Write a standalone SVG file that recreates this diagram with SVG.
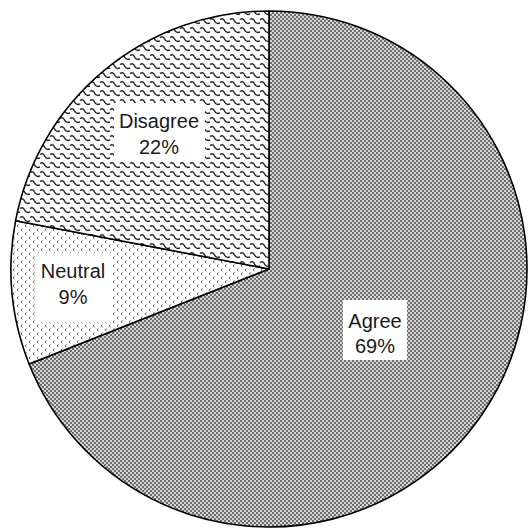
<svg xmlns="http://www.w3.org/2000/svg" width="528" height="529" viewBox="0 0 528 529">
<defs>
<style>
.lbl{font-family:"Liberation Sans",Arial,sans-serif;font-size:20px;fill:#1a1a1a;text-anchor:middle}
.box{fill:#ffffff;stroke:none}
.slice{stroke:#000;stroke-width:1.6;stroke-linejoin:round}
</style>
<pattern id="pAgree" width="4" height="4" patternUnits="userSpaceOnUse">
<rect width="4" height="4" fill="#d4d4d4"/>
<rect x="0" y="0" width="2" height="2" fill="#6e6e6e"/>
<rect x="2" y="2" width="2" height="2" fill="#6e6e6e"/>
</pattern>
<pattern id="pDis" width="10" height="9" patternUnits="userSpaceOnUse">
<rect width="10" height="9" fill="#fff"/>
<path d="M0,1.5 Q3,-0.5 4.5,3 Q6,6.5 10,5" fill="none" stroke="#222" stroke-width="1.4"/>
<path d="M-10,1.5 Q-7,-0.5 -5.5,3 Q-4,6.5 0,5 M10,1.5 Q13,-0.5 14.5,3" fill="none" stroke="#222" stroke-width="1.4"/>
</pattern>
<pattern id="pNeu" width="8" height="8" patternUnits="userSpaceOnUse">
<rect width="8" height="8" fill="#fff"/>
<path d="M2.5,0.5 L1,1.8 L2.5,3" fill="none" stroke="#444" stroke-width="0.9"/>
<path d="M6.5,4.5 L5,5.8 L6.5,7" fill="none" stroke="#444" stroke-width="0.9"/>
</pattern>
</defs>
<rect width="528" height="529" fill="#fff"/>
<g id="connectors"></g>
<g id="agree">
<path class="slice" fill="url(#pAgree)" d="M269,269 L269,11 A258,258 0 1 1 29.1,364.0 Z"/>
<rect class="box" x="343" y="300" width="64" height="60"/>
<text class="lbl" x="375" y="328">Agree</text>
<text class="lbl" x="375" y="353">69%</text>
</g>
<g id="neutral">
<path class="slice" fill="url(#pNeu)" d="M269,269 L29.1,364.0 A258,258 0 0 1 15.6,220.7 Z"/>
<rect class="box" x="35" y="253" width="76" height="69"/>
<text class="lbl" x="73" y="278">Neutral</text>
<text class="lbl" x="73" y="304">9%</text>
</g>
<g id="disagree">
<path class="slice" fill="url(#pDis)" d="M269,269 L15.6,220.7 A258,258 0 0 1 269,11 Z"/>
<rect class="box" x="114" y="103" width="91" height="59"/>
<text class="lbl" x="159" y="128">Disagree</text>
<text class="lbl" x="159" y="154">22%</text>
</g>
</svg>
